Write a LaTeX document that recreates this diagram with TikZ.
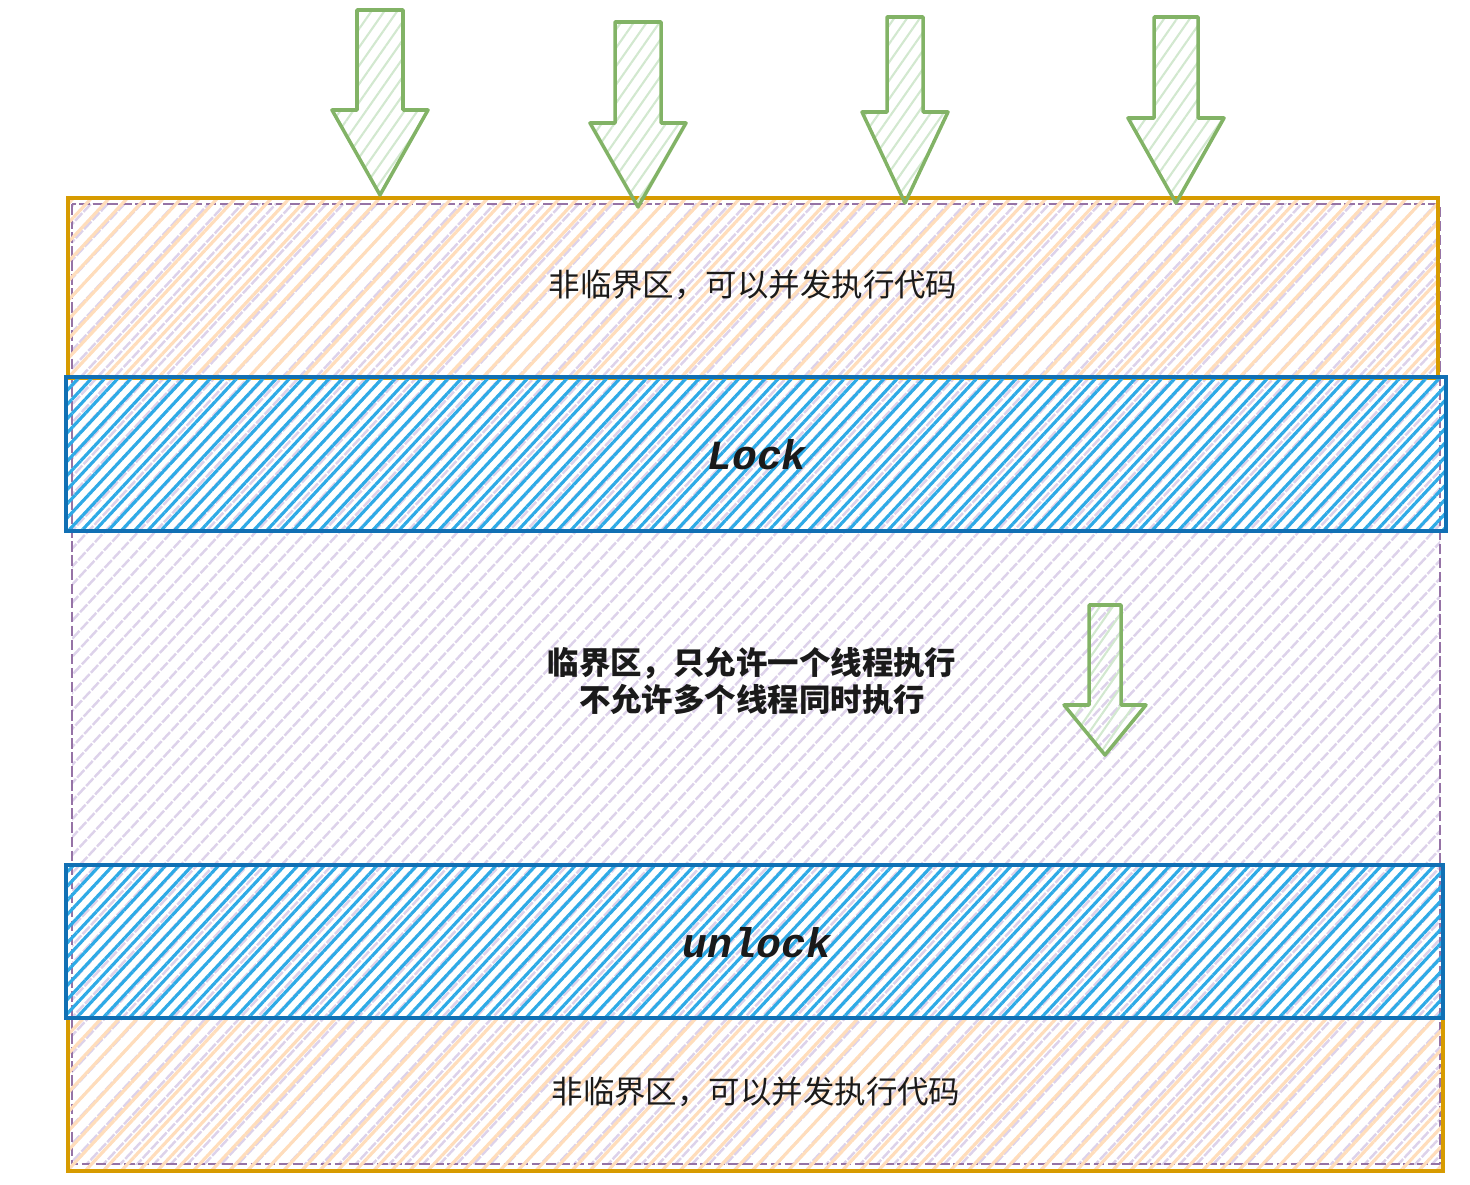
\documentclass[tikz,border=0pt]{standalone}
\usepackage{fontspec}
\newfontfamily\cjk{Noto Sans CJK SC}
\newfontfamily\codefont{Liberation Mono}
\usetikzlibrary{patterns.meta}

\definecolor{orangeline}{HTML}{D79B00}
\definecolor{orangehatch}{HTML}{FFDDBB}
\definecolor{purpleline}{HTML}{9673A6}
\definecolor{purplehatch}{HTML}{DDD2EA}
\definecolor{blueline}{HTML}{1170B4}
\definecolor{bluehatch}{HTML}{2EAAE6}
\definecolor{greenline}{HTML}{82B366}
\definecolor{greenhatch}{HTML}{D2E8CF}
\definecolor{inktext}{HTML}{1A1A1A}

% thick down arrow: x, top, head base, tip, shaft half width, head half width
\newcommand{\fatarrow}[6]{%
  \draw[greenarrow] (#1-#5,#2) -- (#1+#5,#2) -- (#1+#5,#3) -- (#1+#6,#3)
    -- (#1,#4) -- (#1-#6,#3) -- (#1-#5,#3) -- cycle;}

\tikzset{
  purplezone/.style={draw=purpleline, line width=1.4pt, dash pattern=on 6pt off 2pt,
    pattern={Lines[angle=47, distance=7pt, line width=1.4pt]}, pattern color=purplehatch},
  orangezone/.style={draw=orangeline, line width=1.8pt,
    pattern={Lines[angle=47, distance=7.5pt, line width=1.8pt]}, pattern color=orangehatch},
  bluezone/.style={draw=blueline, line width=1.8pt,
    pattern={Lines[angle=47, distance=5.5pt, line width=1.8pt]}, pattern color=bluehatch},
  greenarrow/.style={draw=greenline, line width=2pt, line join=round,
    pattern={Lines[angle=55, distance=6pt, line width=1.2pt]}, pattern color=greenhatch},
  cjklabel/.style={font=\cjk\fontsize{17.9pt}{21.5pt}\selectfont, text=inktext, align=center},
  codelabel/.style={font=\codefont\bfseries\itshape\fontsize{23.6pt}{26pt}\selectfont, text=inktext}
}

\begin{document}
\begin{tikzpicture}[x=0.02cm, y=-0.02cm]
  \useasboundingbox (0,0) rectangle (1470,1185);

  % critical section frame
  \draw[purplezone] (72,204) rectangle (1440,1164);

  % non critical parts
  \draw[orangezone] (68,198) rectangle (1438,378);
  \draw[orangezone] (68,1018) rectangle (1443,1171);

  % lock and unlock bands
  \draw[bluezone] (66,377) rectangle (1446,531);
  \draw[bluezone] (66,865) rectangle (1443,1018);

  % threads coming in
  \fatarrow{380}{10}{110}{195}{23}{48}
  \fatarrow{638}{22}{123}{207}{23}{48}
  \fatarrow{905}{17}{112}{203}{18}{43}
  \fatarrow{1176}{17}{118}{203}{22}{48}
  \fatarrow{1105}{605}{705}{755}{16}{41}

  \node[cjklabel] (freetop) at (753,285) {非临界区，可以并发执行代码};
  \node[codelabel] (lock) at (757,455) {Lock};
  \node[cjklabel, font=\cjk\bfseries\fontsize{17.9pt}{21.5pt}\selectfont] (critical) at (752,681)
    {临界区，只允许一个线程执行\\不允许多个线程同时执行};
  \node[codelabel] (unlock) at (757,943) {unlock};
  \node[cjklabel] (freebottom) at (756,1092) {非临界区，可以并发执行代码};
\end{tikzpicture}
\end{document}
